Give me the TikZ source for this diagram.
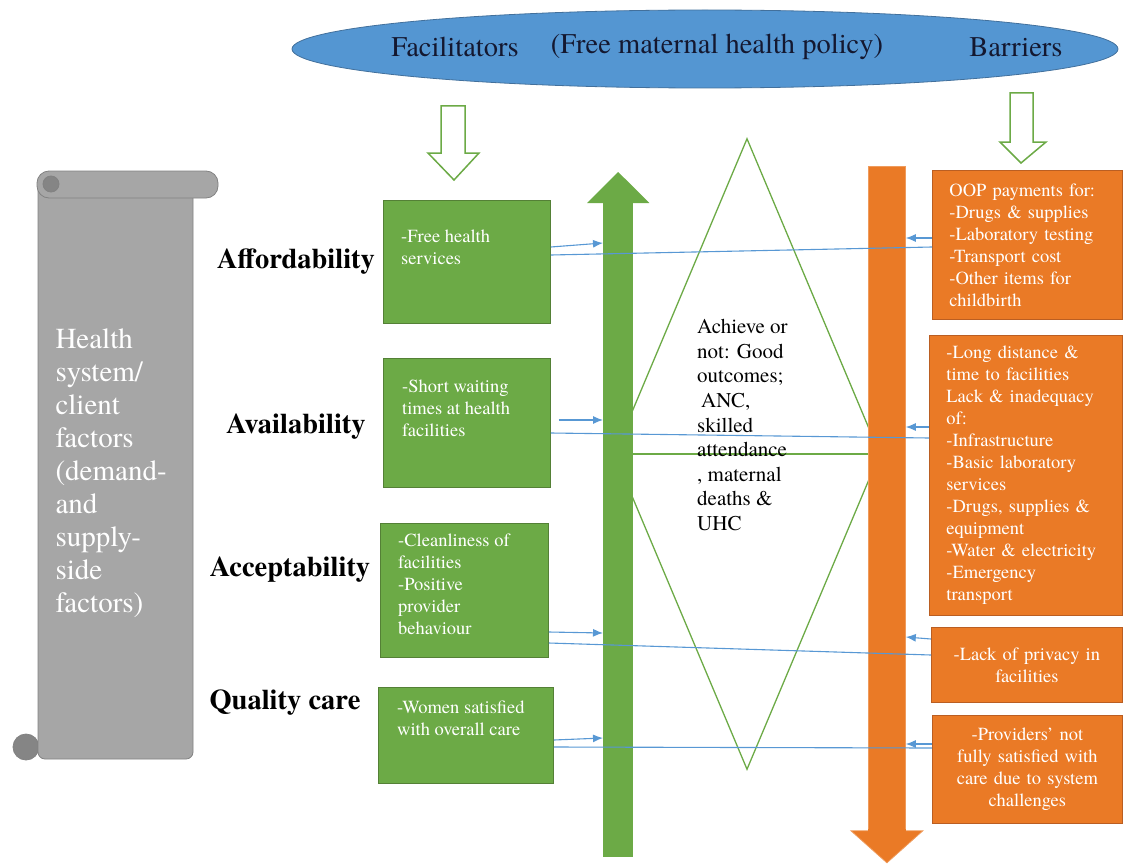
\documentclass[tikz,border=0pt]{standalone}
\usepackage{fontspec}
\setmainfont{texgyretermes}[Extension=.otf, UprightFont=*-regular,
  BoldFont=*-bold, ItalicFont=*-italic, BoldItalicFont=*-bolditalic]
\usetikzlibrary{arrows.meta,shapes.geometric}
\tikzset{>={Latex[length=10pt,width=8pt]}}

\definecolor{fgreen}{RGB}{108,170,70}
\definecolor{fgreendark}{RGB}{84,128,54}
\definecolor{borange}{RGB}{234,122,38}
\definecolor{borangedark}{RGB}{186,94,34}
\definecolor{pblue}{RGB}{84,150,210}
\definecolor{pbluedark}{RGB}{66,112,156}
\definecolor{lblue}{RGB}{88,152,212}
\definecolor{sgray}{RGB}{166,166,166}
\definecolor{sgraydark}{RGB}{130,130,130}
\definecolor{titleink}{RGB}{20,24,48}

\tikzset{
  scroll/.style={draw=sgraydark, fill=sgray, line width=0.8pt},
  scrolldark/.style={draw=sgraydark, fill=sgray!80!black, line width=0.8pt},
  gbox/.style={draw=fgreendark, fill=fgreen, line width=0.8pt, inner sep=0pt, anchor=north west},
  obox/.style={draw=borangedark, fill=borange, line width=0.8pt, text=white,
    font=\fontsize{18.5}{22}\selectfont, inner xsep=17pt, inner ysep=0pt, anchor=north west},
  boxtext/.style={text=white, font=\fontsize{18.5}{22}\selectfont, align=left,
    inner sep=0pt, anchor=north west},
  factor/.style={font=\fontsize{28.5}{32}\selectfont\bfseries},
  title/.style={text=titleink, font=\fontsize{28.5}{32}\selectfont},
  hollow/.style={draw=fgreen, fill=white, line width=1.5pt},
  link/.style={draw=lblue, line width=1.1pt},
}

\begin{document}
\begin{tikzpicture}[x=1pt,y=-1pt]
  \useasboundingbox (0,0) rectangle (1123,864);

  % scroll with the client factors
  \filldraw[scrolldark] (26,747) circle (13);
  \filldraw[scroll, rounded corners=7pt] (38,185) rectangle (193,759);
  \filldraw[scroll, rounded corners=12pt] (37,171) rectangle (218,198);
  \filldraw[scrolldark] (51,184) circle (8);
  \node[text=white, font=\fontsize{29}{33}\selectfont, align=left, anchor=west] (client)
    at (52,473) {Health\\system/\\client\\factors\\(demand-\\and\\supply-\\side\\factors)};

  % policy ellipse on top
  \node[ellipse, draw=pbluedark, fill=pblue, line width=0.8pt, inner sep=0pt,
    minimum width=826, minimum height=78] (policy) at (705,49) {};
  \node[title] (facil) at (455,47) {Facilitators};
  \node[title] (free) at (717,47) {(Free maternal health policy)};
  \node[title] (barr) at (1016,47) {Barriers};

  % hollow arrows below the ellipse
  \draw[hollow] (441,106) -- (465,106) -- (465,153) -- (479,153) -- (454,180)
    -- (428,153) -- (441,153) -- cycle;
  \draw[hollow] (1010,93) -- (1033,93) -- (1033,142) -- (1046,142) -- (1021,163)
    -- (1000,142) -- (1010,142) -- cycle;

  % outcome diamond
  \node[diamond, draw=fgreen, line width=1.3pt, inner sep=0pt,
    minimum width=266, minimum height=631] (outcome) at (747,454) {};
  \draw[fgreen, line width=1.3pt] (outcome.west) -- (outcome.east);
  \node[font=\fontsize{21}{24.6}\selectfont, align=left, anchor=west, inner sep=0pt] (goal)
    at (697,425) {Achieve or\\not: Good\\outcomes;\\\hspace{4pt}ANC,\\skilled\\attendance\\, maternal\\deaths \&\\UHC};

  % facilitators arrow (up) and barriers arrow (down)
  \node[fill=fgreen, inner sep=0pt, minimum width=30, minimum height=654,
    anchor=north west] (upbar) at (603,203) {};
  \fill[fgreen] ([xshift=-16pt]upbar.north west) -- ([yshift=31pt]upbar.north)
    -- ([xshift=16pt]upbar.north east) -- cycle;
  \node[fill=borange, draw=borange!75!white, line width=0.8pt, inner sep=0pt,
    minimum width=37, minimum height=664, anchor=north west] (downbar) at (868,166) {};
  \filldraw[fill=borange, draw=borange!75!white, line width=0.8pt]
    ([xshift=-17pt]downbar.south west) -- ([yshift=-32pt]downbar.south)
    -- ([xshift=17pt]downbar.south east) -- cycle;
  \fill[borange] ([yshift=1.5pt]downbar.south west) rectangle ([yshift=-1pt]downbar.south east);

  % factor labels
  \node[factor] (afford) at (296,262) {Affordability};
  \node[factor] (avail) at (296,427) {Availability};
  \node[factor] (accept) at (290,570) {Acceptability};
  \node[factor] (quality) at (285,703) {Quality care};

  % facilitator boxes
  \node[gbox, minimum width=167, minimum height=123] (f1) at (383,200) {};
  \node[gbox, minimum width=167, minimum height=129] (f2) at (383,358) {};
  \node[gbox, minimum width=168, minimum height=134] (f3) at (380,523) {};
  \node[gbox, minimum width=175, minimum height=96] (f4) at (378,687) {};
  \node[boxtext] (f1txt) at (401,230) {-Free health\\services};
  \node[boxtext] (f2txt) at (402,380) {-Short waiting\\times at health\\facilities};
  \node[boxtext] (f3txt) at (398,534) {-Cleanliness of\\facilities\\-Positive\\provider\\behaviour};
  \node[boxtext] (f4txt) at (397,701) {-Women satisfied\\with overall care};

  % barrier boxes
  \node[obox, text width=156, minimum height=149, align=left] (b1) at (932,170)
    {OOP payments for:\\-Drugs \& supplies\\-Laboratory testing\\-Transport cost\\-Other items for\\childbirth};
  \node[obox, text width=159, minimum height=280, align=left] (b2) at (929,335)
    {-Long distance \&\\time to facilities\\Lack \& inadequacy\\of:\\-Infrastructure\\-Basic laboratory\\services\\-Drugs, supplies \&\\equipment\\-Water \& electricity\\-Emergency\\transport};
  \node[obox, text width=157, minimum height=75, align=center] (b3) at (931,627)
    {-Lack of privacy in\\facilities};
  \node[obox, text width=156, minimum height=108, align=center] (b4) at (932,715)
    {-Providers’ not\\fully satisfied with\\care due to system\\challenges};

  % links between the boxes and the arrows
  \draw[link,->] (f1.east |- 0,247) -- (upbar.west |- 0,243);
  \draw[link] (f1.east |- 0,255) -- (b1.west |- 0,247);
  \draw[link,->] (b1.west |- 0,238) -- (downbar.east |- 0,238);

  \draw[link,->,shorten <=8pt] (f2.east |- 0,420) -- (upbar.west |- 0,420);
  \draw[link] (f2.east |- 0,433) -- (b2.west |- 0,438);
  \draw[link,->] (b2.west |- 0,427) -- (downbar.east |- 0,427);

  \draw[link,->] (f3.east |- 0,632) -- (upbar.west |- 0,633);
  \draw[link] (f3.east |- 0,643) -- (b3.west |- 0,655);
  \draw[link,->] (b3.west |- 0,639) -- (downbar.east |- 0,637);

  \draw[link,->] (f4.east |- 0,740) -- (upbar.west |- 0,738);
  \draw[link] (f4.east |- 0,747) -- (b4.west |- 0,748);
  \draw[link,->] (b4.west |- 0,744) -- (downbar.east |- 0,744);
\end{tikzpicture}
\end{document}
